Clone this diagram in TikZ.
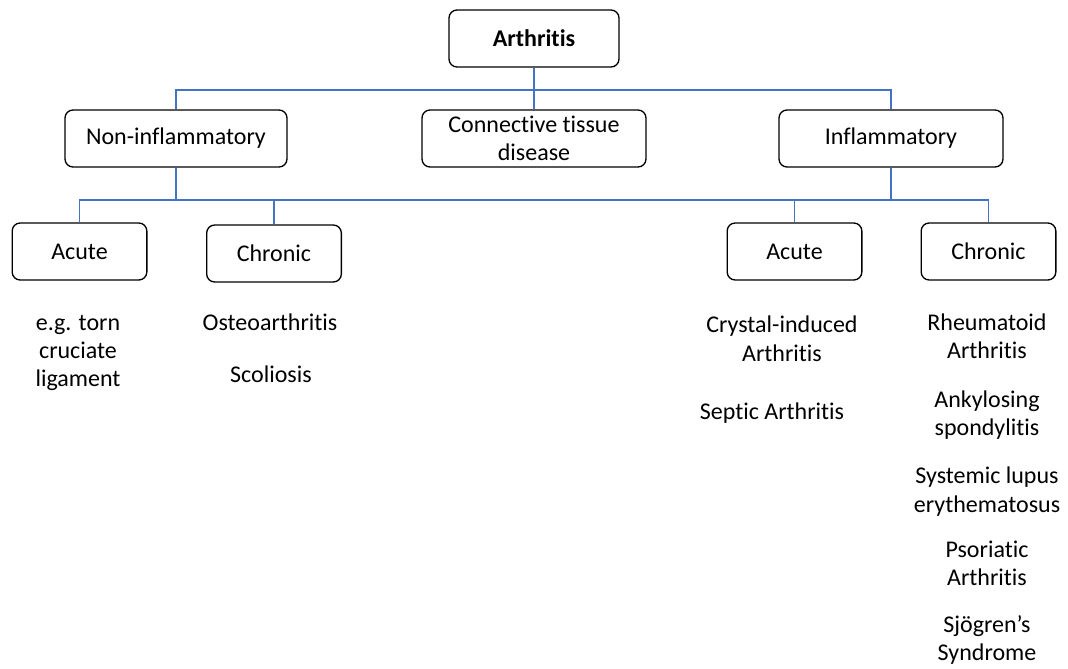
\documentclass[tikz,border=0pt]{standalone}
\usepackage{fontspec}
\setmainfont{Carlito}[Ligatures={NoCommon,NoRequired,NoContextual}]
\definecolor{linkblue}{HTML}{4472C4}
\begin{document}
\begin{tikzpicture}[x=0.75pt,y=-0.75pt,
  every node/.style={font=\fontsize{18}{21}\selectfont},
  box/.style={draw=black,line width=1pt,rounded corners=6pt,align=center,inner sep=0pt,minimum height=42.75pt},
  wide/.style={box,minimum width=167pt},
  small/.style={box,minimum width=101pt},
  item/.style={anchor=base,inner sep=0pt},
  link/.style={draw=linkblue,line width=0.9pt}]
\useasboundingbox (0,0) rectangle (1068,668);
% boxes
\node[box,minimum width=127.5pt,font=\fontsize{18}{21}\selectfont\bfseries] (arth) at (534,38.5) {Arthritis};
\node[wide,minimum width=166.5pt] (noninf) at (176,138.5) {Non-inflammatory};
\node[wide,minimum width=168pt] (conn) at (534,138.5) {Connective tissue\\disease};
\node[wide,minimum width=168pt] (infl) at (891,138.5) {Inflammatory};
\node[small] (acuteL) at (79.5,251.5) {Acute};
\node[small] (chronL) at (274,253.5) {Chronic};
\node[small] (acuteR) at (794.5,251.5) {Acute};
\node[small] (chronR) at (988.5,251.5) {Chronic};
% junctions
\coordinate (j1) at (534,90);
\coordinate (j2) at (176,200);
\coordinate (j3) at (891,200);
% connectors
\path[link] (arth.south) -- (j1);
\path[link] (conn.north) -- (j1);
\path[link] (noninf.north) |- (j1);
\path[link] (infl.north) |- (j1);
\path[link] (noninf.south) -- (j2);
\path[link] (infl.south) -- (j3);
\path[link] (j2) -- (j3);
\path[link] (acuteL.north) |- (j2);
\path[link] (chronL.north) |- (j2);
\path[link] (acuteR.north) |- (j3);
\path[link] (chronR.north) |- (j3);
% lists
\node[item] (a1) at (78,330) {e.g. torn};
\node[item] (a2) at (78,358) {cruciate};
\node[item] (a3) at (78,386) {ligament};
\node[item] (c1) at (270,330) {Osteoarthritis};
\node[item] (c2) at (271,382) {Scoliosis};
\node[item] (r1) at (782,332) {Crystal-induced};
\node[item] (r2) at (782,361) {Arthritis};
\node[item] (r3) at (772,419) {Septic Arthritis};
\node[item] (s1) at (987,330) {Rheumatoid};
\node[item] (s2) at (987,358) {Arthritis};
\node[item] (s3) at (987,407) {Ankylosing};
\node[item] (s4) at (987,435) {spondylitis};
\node[item] (s5) at (987,483) {Systemic lupus};
\node[item] (s6) at (987,512) {erythematosus};
\node[item] (s7) at (987,557) {Psoriatic};
\node[item] (s8) at (987,585) {Arthritis};
\node[item] (s9) at (987,632) {Sjögren’s};
\node[item] (s10) at (987,660) {Syndrome};
\end{tikzpicture}
\end{document}
